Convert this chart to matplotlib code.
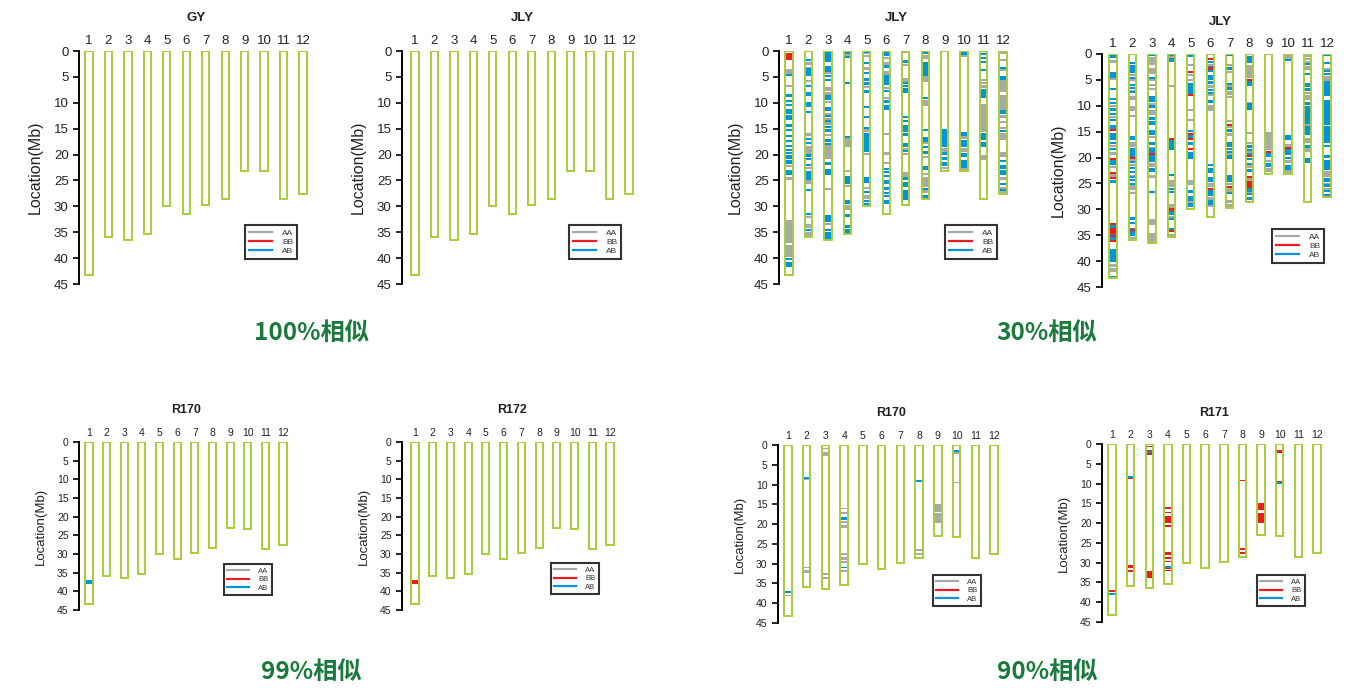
import numpy as np
import matplotlib
matplotlib.use("Agg")
from matplotlib import pyplot as plt
from matplotlib.lines import Line2D

##################################################
# Data: chromosome lengths (Mb) and genotype blocks (chrom, start, end)
chroms = list(range(1, 13))
chrom_len = [43.3, 36.0, 36.5, 35.4, 30.0, 31.4, 29.8, 28.5, 23.1, 23.2, 28.6, 27.6]

# JLY, 30% panel (left)
jly30a_aa = [
    (1, 3.5, 4.6), (1, 6.6, 6.8), (1, 22.1, 22.3), (1, 24.3, 24.9), (1, 32.6, 37.1), (1, 37.5, 39.7),
    (2, 2.1, 2.7), (2, 3.0, 3.2), (2, 5.6, 6.0), (2, 15.9, 16.5), (2, 18.4, 19.8), (2, 22.4, 22.6),
    (2, 24.9, 25.6), (2, 31.9, 32.1), (2, 33.5, 34.1), (2, 34.9, 36.0),
    (3, 4.0, 4.2), (3, 7.0, 7.8), (3, 8.0, 8.5), (3, 9.7, 9.9), (3, 11.9, 12.1), (3, 12.9, 13.1),
    (3, 13.8, 14.0), (3, 16.1, 16.3), (3, 18.2, 20.8), (3, 26.4, 26.6), (3, 33.2, 33.4),
    (4, 0.6, 0.8), (4, 16.7, 18.5), (4, 22.9, 23.1), (4, 25.8, 26.0), (4, 29.8, 30.7),
    (5, 0.1, 0.3), (5, 0.7, 0.9), (5, 3.0, 3.6), (5, 6.8, 7.0), (5, 15.1, 15.7), (5, 19.7, 19.9),
    (5, 26.2, 26.7), (5, 27.8, 28.5),
    (6, 1.1, 1.6), (6, 2.1, 2.7), (6, 3.8, 4.7), (6, 6.9, 7.1), (6, 8.8, 9.1), (6, 15.8, 16.0),
    (6, 19.5, 20.1), (6, 21.4, 21.7),
    (7, 0.0, 0.4), (7, 2.5, 2.7), (7, 5.3, 5.9), (7, 18.7, 18.9), (7, 19.7, 20.1), (7, 23.3, 24.3),
    (8, 0.7, 1.6), (8, 4.9, 6.0), (8, 9.4, 10.7), (8, 17.6, 18.0), (8, 20.3, 20.5), (8, 23.6, 23.8),
    (8, 24.3, 26.2), (8, 26.9, 27.5),
    (9, 18.8, 19.5), (9, 22.4, 22.6),
    (10, 0.8, 1.2), (10, 16.5, 16.7), (10, 18.8, 19.5), (10, 22.6, 22.8),
    (11, 5.4, 5.6), (11, 5.9, 6.2), (11, 6.6, 7.2), (11, 10.2, 15.6), (11, 20.1, 21.1),
    (12, 0.0, 0.5), (12, 1.5, 1.8), (12, 3.5, 3.7), (12, 5.6, 7.9), (12, 8.5, 11.4), (12, 12.4, 13.0),
    (12, 13.6, 13.8), (12, 14.6, 15.0), (12, 15.9, 17.2), (12, 19.5, 20.4), (12, 24.3, 24.9),
    (12, 26.2, 26.6), (12, 26.9, 27.5),
]
jly30a_ab = [
    (1, 4.5, 4.9), (1, 8.4, 8.7), (1, 9.5, 9.8), (1, 10.3, 10.7), (1, 11.2, 12.1), (1, 12.4, 13.4),
    (1, 14.1, 14.6), (1, 15.0, 15.3), (1, 16.2, 16.4), (1, 17.1, 17.3), (1, 18.2, 18.5), (1, 19.0, 19.2),
    (1, 19.5, 19.7), (1, 20.0, 20.2), (1, 20.5, 20.7), (1, 21.0, 21.2), (1, 21.5, 21.7),
    (1, 23.0, 24.0), (1, 40.0, 40.3), (1, 40.7, 41.8),
    (2, 1.5, 1.7), (2, 3.3, 3.8), (2, 3.9, 4.9), (2, 6.6, 6.9), (2, 8.0, 8.6), (2, 9.8, 10.9),
    (2, 11.6, 11.8), (2, 16.8, 17.2), (2, 17.5, 17.9), (2, 19.8, 20.4), (2, 20.7, 21.0), (2, 21.9, 22.1),
    (2, 23.1, 24.9), (2, 26.6, 26.8), (2, 31.3, 31.5), (2, 34.3, 34.7),
    (3, 0.1, 2.1), (3, 2.9, 4.0), (3, 4.6, 5.1), (3, 5.4, 5.6), (3, 8.5, 9.4), (3, 10.9, 11.5),
    (3, 12.3, 12.7), (3, 13.3, 13.6), (3, 14.5, 14.8), (3, 15.0, 15.7), (3, 17.0, 17.5), (3, 17.7, 18.1),
    (3, 21.4, 22.0), (3, 22.7, 24.0), (3, 31.7, 33.0), (3, 34.3, 34.6), (3, 34.9, 36.5),
    (4, 0.2, 0.5), (4, 1.0, 1.3), (4, 5.9, 6.1), (4, 16.4, 16.7), (4, 24.2, 25.6), (4, 28.7, 28.9),
    (4, 29.1, 29.4), (4, 31.4, 32.0), (4, 33.6, 34.1), (4, 34.3, 35.3),
    (5, 0.0, 0.2), (5, 2.2, 2.4), (5, 4.0, 4.4), (5, 5.3, 5.6), (5, 5.9, 6.6), (5, 7.5, 8.1),
    (5, 10.6, 10.8), (5, 12.6, 12.8), (5, 14.7, 14.9), (5, 15.9, 16.6), (5, 16.7, 17.9), (5, 18.0, 19.5),
    (5, 24.3, 25.4), (5, 27.0, 27.5), (5, 28.7, 29.1), (5, 29.4, 29.8),
    (6, 0.2, 0.9), (6, 2.8, 3.0), (6, 4.7, 5.6), (6, 5.6, 6.6), (6, 7.5, 7.8), (6, 9.5, 10.1),
    (6, 10.5, 11.4), (6, 22.6, 22.8), (6, 23.2, 23.4), (6, 23.9, 24.1), (6, 24.9, 25.6), (6, 26.2, 26.9),
    (6, 27.2, 27.5), (6, 27.8, 28.1), (6, 28.8, 29.6),
    (7, 1.8, 2.3), (7, 5.9, 6.2), (7, 6.6, 6.8), (7, 7.2, 8.2), (7, 12.6, 12.8), (7, 13.3, 13.6),
    (7, 14.3, 15.6), (7, 15.9, 16.5), (7, 17.7, 18.5), (7, 19.1, 19.4), (7, 24.4, 24.9), (7, 25.3, 26.2),
    (7, 26.9, 28.7), (7, 29.5, 29.8),
    (8, 0.0, 0.5), (8, 2.1, 3.0), (8, 3.0, 4.9), (8, 8.9, 9.1), (8, 15.1, 15.3), (8, 16.6, 17.6),
    (8, 18.3, 18.8), (8, 19.4, 19.7), (8, 22.2, 22.9), (8, 26.5, 26.9), (8, 27.8, 28.5),
    (9, 15.0, 18.5), (9, 19.6, 20.1), (9, 20.4, 21.1), (9, 21.4, 22.3),
    (10, 0.0, 0.7), (10, 15.6, 16.4), (10, 17.2, 18.6), (10, 19.7, 20.4), (10, 21.0, 22.6),
    (11, 0.4, 0.8), (11, 1.1, 1.4), (11, 2.0, 2.2), (11, 3.5, 3.7), (11, 7.4, 9.1), (11, 15.9, 17.2),
    (11, 17.5, 18.5),
    (12, 3.0, 3.3), (12, 4.9, 5.6), (12, 11.4, 12.1), (12, 15.3, 15.6), (12, 21.0, 21.4), (12, 22.0, 22.7),
    (12, 23.0, 24.0), (12, 25.4, 25.9), (12, 26.6, 26.8),
]
jly30a_bb = [(1, 0.4, 1.7)]

# JLY, 30% panel (right)
jly30b_aa = [
    (1, 1.1, 1.7), (1, 4.6, 5.0), (1, 9.8, 10.1), (1, 12.0, 12.2), (1, 17.5, 17.7), (1, 18.9, 19.5),
    (1, 21.7, 21.9), (1, 23.0, 23.7), (1, 40.5, 41.1), (1, 41.4, 42.1),
    (2, 3.8, 4.3), (2, 4.6, 5.3), (2, 6.9, 7.2), (2, 8.2, 8.8), (2, 10.1, 11.1), (2, 11.7, 12.1),
    (2, 16.9, 17.9), (2, 20.2, 20.4), (2, 21.3, 21.5), (2, 23.3, 23.5), (2, 25.3, 26.3), (2, 26.7, 26.9),
    (2, 35.3, 36.0),
    (3, 0.5, 2.1), (3, 2.7, 3.8), (3, 4.9, 5.1), (3, 5.8, 6.0), (3, 6.5, 6.7), (3, 9.4, 9.6),
    (3, 10.8, 11.7), (3, 15.8, 16.0), (3, 17.9, 18.5), (3, 21.1, 21.8), (3, 23.4, 24.0), (3, 31.8, 33.1),
    (3, 34.6, 34.8), (3, 35.0, 36.5),
    (4, 0.4, 0.6), (4, 6.0, 6.2), (4, 24.3, 25.6), (4, 28.9, 29.8), (4, 31.3, 31.5), (4, 34.7, 35.4),
    (5, 2.0, 2.4), (5, 3.9, 4.1), (5, 4.9, 5.1), (5, 10.7, 10.9), (5, 12.6, 12.8), (5, 24.3, 25.3),
    (5, 28.4, 28.6),
    (6, 2.0, 2.2), (6, 5.9, 6.6), (6, 7.8, 8.0), (6, 9.8, 11.1), (6, 25.0, 25.6), (6, 27.6, 28.2),
    (6, 29.2, 29.5),
    (7, 1.9, 2.4), (7, 3.3, 3.5), (7, 6.0, 6.2), (7, 7.2, 7.9), (7, 8.1, 8.3), (7, 12.7, 13.0),
    (7, 13.9, 14.1), (7, 15.3, 15.9), (7, 19.1, 19.3), (7, 24.9, 25.3), (7, 25.9, 26.6), (7, 28.2, 28.7),
    (7, 29.0, 29.5),
    (8, 2.1, 3.0), (8, 3.0, 4.6), (8, 9.2, 9.5), (8, 15.1, 15.3), (8, 16.9, 17.4), (8, 18.8, 19.0),
    (8, 21.4, 22.1), (8, 24.0, 24.5), (8, 26.6, 26.8),
    (9, 15.0, 18.5), (9, 20.4, 20.6), (9, 22.1, 22.7),
    (10, 0.0, 1.0), (10, 17.4, 17.9), (10, 20.5, 21.1), (10, 22.4, 22.9),
    (11, 0.1, 0.5), (11, 0.8, 1.1), (11, 1.3, 1.5), (11, 2.4, 3.0), (11, 7.4, 7.6), (11, 7.9, 8.8),
    (11, 13.6, 13.8), (11, 16.3, 17.2), (11, 18.2, 18.9),
    (12, 2.7, 3.0), (12, 4.2, 5.3), (12, 22.6, 22.8), (12, 23.0, 23.7), (12, 24.9, 25.1), (12, 25.8, 26.0),
]
jly30b_ab = [
    (1, 0.0, 0.8), (1, 3.4, 4.6), (1, 6.5, 6.7), (1, 8.5, 8.8), (1, 9.2, 9.5), (1, 10.5, 11.1),
    (1, 11.4, 11.7), (1, 12.6, 12.8), (1, 13.7, 14.5), (1, 15.3, 16.6), (1, 17.0, 17.2), (1, 18.1, 18.3),
    (1, 20.5, 21.4), (1, 24.3, 24.9), (1, 33.1, 33.7), (1, 34.7, 35.0), (1, 35.4, 36.0), (1, 37.6, 40.2),
    (1, 42.8, 43.3),
    (2, 1.5, 1.7), (2, 2.1, 3.7), (2, 4.4, 4.6), (2, 5.8, 6.0), (2, 6.3, 6.5), (2, 7.2, 7.6),
    (2, 15.9, 16.6), (2, 18.2, 19.8), (2, 20.7, 20.9), (2, 21.8, 22.1), (2, 22.6, 22.8), (2, 23.6, 23.8),
    (2, 24.2, 24.4), (2, 24.9, 25.1), (2, 31.4, 32.1), (2, 32.4, 32.7), (2, 33.7, 34.7), (2, 34.8, 35.0),
    (3, 0.0, 0.3), (3, 4.4, 4.6), (3, 8.1, 8.3), (3, 8.5, 9.2), (3, 9.8, 10.5), (3, 12.1, 12.7),
    (3, 13.0, 13.7), (3, 14.7, 15.6), (3, 16.9, 17.6), (3, 18.2, 19.2), (3, 19.5, 20.8), (3, 22.1, 22.7),
    (3, 26.5, 26.7),
    (4, 0.0, 0.3), (4, 0.7, 0.9), (4, 1.1, 1.4), (4, 16.7, 18.5), (4, 23.1, 23.3), (4, 25.8, 26.0),
    (4, 26.5, 26.7), (4, 30.3, 31.1), (4, 31.7, 31.9), (4, 33.6, 33.8),
    (5, 0.2, 0.4), (5, 5.6, 7.7), (5, 14.6, 15.0), (5, 15.3, 16.3), (5, 16.9, 17.6), (5, 18.9, 19.2),
    (5, 19.4, 19.6), (5, 19.8, 20.3), (5, 26.3, 26.9), (5, 27.5, 27.7), (5, 27.9, 28.2), (5, 28.8, 29.0),
    (5, 29.2, 29.5),
    (6, 1.4, 1.7), (6, 2.4, 2.6), (6, 3.0, 3.4), (6, 4.0, 5.0), (6, 5.3, 5.6), (6, 6.8, 7.2),
    (6, 7.4, 7.6), (6, 8.8, 9.5), (6, 21.3, 21.5), (6, 22.1, 23.0), (6, 23.7, 24.7), (6, 26.1, 27.4),
    (6, 28.2, 29.2),
    (7, 0.0, 0.3), (7, 2.6, 2.8), (7, 5.6, 6.0), (7, 6.4, 6.9), (7, 14.5, 15.0), (7, 16.9, 17.9),
    (7, 18.1, 18.3), (7, 18.8, 19.0), (7, 19.5, 20.3), (7, 23.4, 24.7), (7, 26.6, 26.8),
    (8, 0.3, 1.7), (8, 5.3, 6.1), (8, 9.5, 10.8), (8, 17.6, 18.2), (8, 18.4, 18.6), (8, 19.1, 19.3),
    (8, 20.0, 20.2), (8, 21.0, 21.2), (8, 22.3, 22.5), (8, 25.9, 26.6), (8, 26.8, 27.0), (8, 27.6, 28.2),
    (9, 19.2, 19.8), (9, 21.1, 21.8),
    (10, 1.0, 1.2), (10, 15.6, 16.6), (10, 18.4, 19.5), (10, 19.8, 20.3), (10, 21.4, 22.4),
    (11, 1.7, 2.1), (11, 3.6, 3.8), (11, 5.6, 6.3), (11, 6.6, 7.2), (11, 9.2, 9.8), (11, 10.1, 13.6),
    (11, 14.0, 15.6), (11, 17.6, 18.2), (11, 20.1, 21.1),
    (12, 0.0, 0.3), (12, 1.5, 1.7), (12, 3.1, 3.3), (12, 3.7, 4.0), (12, 5.3, 8.2), (12, 8.8, 13.7),
    (12, 14.0, 17.2), (12, 17.5, 17.7), (12, 19.5, 20.1), (12, 20.5, 22.4), (12, 24.0, 24.7),
    (12, 25.2, 25.4), (12, 26.2, 26.4), (12, 27.1, 27.6),
]
jly30b_bb = [
    (1, 14.5, 14.8), (1, 20.0, 20.4), (1, 22.7, 23.0), (1, 23.8, 24.1), (1, 32.6, 33.1), (1, 33.7, 34.7),
    (1, 35.0, 35.4), (1, 36.0, 36.4),
    (2, 19.8, 20.1), (2, 33.8, 34.1),
    (3, 19.1, 19.4),
    (4, 16.3, 16.7), (4, 29.8, 30.3), (4, 34.0, 34.3),
    (5, 3.2, 3.7), (5, 7.7, 8.1), (5, 15.2, 15.4), (5, 16.3, 16.6), (5, 18.1, 18.4),
    (6, 0.8, 1.2), (6, 2.6, 2.9), (6, 25.8, 26.1),
    (7, 13.5, 13.8), (7, 25.5, 25.8),
    (8, 4.8, 5.2), (8, 19.5, 19.8), (8, 23.6, 24.0), (8, 24.5, 25.8),
    (9, 18.7, 19.2),
    (10, 17.9, 18.4),
]

# R170 / R172 (99% panel): single block on chromosome 1
r170a_ab = [(1, 37.0, 38.0)]
r172_bb = [(1, 37.0, 38.0)]

# R170 / R171 (90% panel)
r170b_aa = [
    (1, 37.8, 38.1), (2, 8.4, 8.9), (2, 30.8, 31.2), (2, 31.7, 32.3),
    (3, 0.7, 0.9), (3, 1.7, 2.7), (3, 32.3, 32.8), (3, 33.4, 33.8),
    (4, 15.9, 16.1), (4, 17.0, 17.2), (4, 19.3, 19.5), (4, 20.3, 20.9), (4, 27.3, 27.9), (4, 28.3, 29.1),
    (4, 29.4, 29.8), (4, 31.7, 32.1),
    (8, 26.2, 26.8), (8, 27.3, 27.9),
    (9, 14.8, 16.9), (9, 17.3, 19.8),
    (10, 1.8, 2.0), (10, 9.3, 9.7),
]
r170b_ab = [(1, 37.0, 37.4), (2, 8.1, 8.3), (4, 18.3, 19.0), (4, 30.8, 31.2), (8, 8.9, 9.3), (10, 1.3, 1.7)]

r171_bb = [
    (1, 37.0, 37.4), (2, 8.4, 8.8), (2, 30.7, 31.3), (2, 31.8, 32.4),
    (3, 0.4, 0.8), (3, 1.5, 1.7), (3, 2.3, 2.9), (3, 32.2, 34.0),
    (4, 16.0, 16.3), (4, 17.1, 17.4), (4, 18.1, 20.0), (4, 20.6, 21.0), (4, 27.3, 28.0), (4, 28.6, 29.0),
    (4, 29.5, 29.9), (4, 31.3, 31.5), (4, 31.8, 32.0),
    (8, 9.0, 9.4), (8, 26.3, 26.9), (8, 27.4, 27.9),
    (9, 14.9, 16.8), (9, 17.4, 20.0),
    (10, 1.4, 2.3), (10, 9.3, 9.7),
]
r171_ab = [(1, 37.7, 38.2), (2, 8.2, 8.4), (3, 1.7, 2.3), (4, 30.9, 31.3), (10, 9.7, 9.9)]

##################################################
# Styles:
C_CHR = '#a6ce39'
C_AA = '#a7a9ac'
C_BB = '#ed1c24'
C_AB = '#0095da'
C_NOTE = '#1a7a3c'

W, H = 1362, 688
plt.rcParams['font.family'] = ['Liberation Sans', 'DejaVu Sans']

fig = plt.figure(figsize=(W / 100, H / 100), dpi=100)

# panel: title, spine x, chr1 x, chr12 x, y(0), y(45), title y, legend (x, y), blocks, small
panels = [
    ("GY", 79, 89, 303, 51, 284, 18, (245, 225), [], False),
    ("JLY", 402, 415, 629, 51, 284, 18, (569, 225), [], False),
    ("JLY", 779, 789, 1003, 51, 284, 18, (945, 225),
     [(jly30a_aa, C_AA), (jly30a_ab, C_AB), (jly30a_bb, C_BB)], False),
    ("JLY", 1102, 1113, 1327, 54, 287, 22, (1272, 229),
     [(jly30b_aa, C_AA), (jly30b_ab, C_AB), (jly30b_bb, C_BB)], False),
    ("R170", 79, 89, 283, 442, 610, 410, (224, 564), [(r170a_ab, C_AB)], True),
    ("R172", 402, 415, 610, 442, 610, 410, (551, 563), [(r172_bb, C_BB)], True),
    ("R170", 778, 788, 994, 445, 623, 413, (933, 575), [(r170b_aa, C_AA), (r170b_ab, C_AB)], True),
    ("R171", 1102, 1112, 1317, 444, 622, 413, (1257, 575), [(r171_bb, C_BB), (r171_ab, C_AB)], True),
]

for title, x_ax, x1, x12, y0, y45, y_title, leg_xy, blocks, small in panels:
    sp = (x12 - x1) / 11
    x_right = x12 + 0.6 * sp
    ax = fig.add_axes([x_ax / W, 1 - y45 / H, (x_right - x_ax) / W, (y45 - y0) / H])
    ax.set_xlim(1 - (x1 - x_ax) / sp, 12.6)
    ax.set_ylim(45, 0)
    bw = 0.37 if not small else 0.4

    for data, color in blocks:
        for c, s, e in data:
            h = max(e - s, 0.4)
            ax.bar(c, h, bottom=s, width=bw, color=color, linewidth=0, zorder=2)
    ax.bar(chroms, chrom_len, bottom=0, width=bw, fill=False,
           edgecolor=C_CHR, linewidth=1.4, zorder=3)

    fs_tick = 7.5 if small else 9.5
    ax.set_yticks(np.arange(0, 46, 5))
    ax.tick_params(axis='y', direction='out', length=4, width=1.4,
                   labelsize=fs_tick, colors='#222222')
    ax.xaxis.tick_top()
    ax.set_xticks(chroms)
    ax.tick_params(axis='x', length=0, labelsize=fs_tick, colors='#222222', pad=3)
    for s in ['right', 'bottom', 'top']:
        ax.spines[s].set_visible(False)
    ax.spines['left'].set_linewidth(1.4)
    ax.spines['left'].set_bounds(0, 45)
    ax.set_ylabel('Location(Mb)', fontsize=9.5 if small else 11.5, color='#222222',
                  labelpad=7 if small else 8)
    fig.text((x1 + x12) / 2 / W, 1 - y_title / H, title, ha='center', va='center',
             fontsize=9 if small else 9.5, fontweight='bold', color='#222222')

    handles = [Line2D([], [], color=C_AA, lw=1.6),
               Line2D([], [], color=C_BB, lw=1.6),
               Line2D([], [], color=C_AB, lw=1.6)]
    leg = ax.legend(handles, ['AA', 'BB', 'AB'], loc='upper left',
                    bbox_to_anchor=(leg_xy[0] / W, 1 - leg_xy[1] / H),
                    bbox_transform=fig.transFigure,
                    fontsize=5.5 if small else 6, frameon=True, fancybox=False,
                    edgecolor='black', handlelength=2.8, handletextpad=1.2,
                    labelspacing=0.15, borderpad=0.45, borderaxespad=0)
    leg.get_frame().set_linewidth(1.5)
    for t in leg.get_texts():
        t.set_color('#333333')

# Similarity notes:
notes = ["100%相似", "30%相似", "99%相似", "90%相似"]
note_xy = [(312, 333), (1047, 333), (311, 672), (1047, 672)]
for txt, (nx, ny) in zip(notes, note_xy):
    fig.text(nx / W, 1 - ny / H, txt, ha='center', va='center', fontsize=17.5,
             color=C_NOTE, family=['Noto Sans CJK SC', 'DejaVu Sans'], fontweight='bold')

plt.savefig('out.png', dpi=100)
